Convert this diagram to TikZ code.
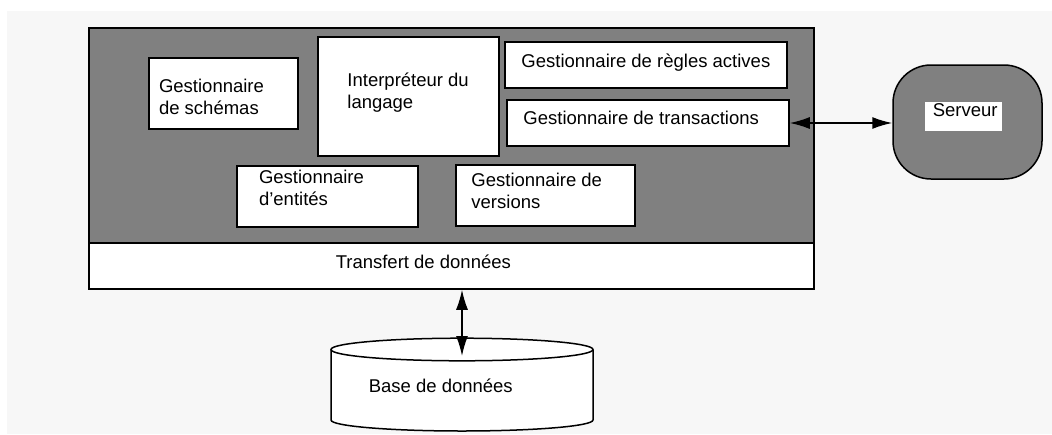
\documentclass[tikz,border=0pt]{standalone}
\usepackage{fontspec}
\setmainfont{Liberation Sans}
\usetikzlibrary{arrows.meta,fit}
\definecolor{fond}{HTML}{F7F7F7}
\definecolor{gris}{HTML}{808080}
\begin{document}
\begin{tikzpicture}[x=1pt,y=-1pt,line width=1.5pt,>={Latex[length=20pt,width=12pt]},
  bloc/.style={draw,fill=white,inner sep=0pt},
  txt/.style={anchor=base west,align=left,inner sep=0pt,font=\fontsize{18.5}{22}\selectfont}]
\path[use as bounding box] (0,0) rectangle (1052,434);
\fill[fond] (7,11) rectangle (1052,434);
% le noyau
\node[bloc,fill=gris,fit={(89,28) (814,243)}] (noyau) {};
\node[bloc,fit={(89,243) (814,289)}] (transfert) {};
\node[bloc,fit={(149,58) (298,129)}] (schemas) {};
\node[bloc,fit={(318,37) (499,156)}] (interp) {};
\node[bloc,fit={(237,166) (418,227)}] (entites) {};
\node[bloc,fit={(505,42) (787,88)}] (regles) {};
\node[bloc,fit={(507,100) (789,146)}] (transac) {};
\node[bloc,fit={(456,165) (635,226)}] (versions) {};
% base = derniere ligne
\node[txt] (t-schemas) at (158.3,114.5) {Gestionnaire\\de schémas};
\node[txt] (t-interp) at (346.7,108.6) {Interpréteur du\\langage};
\node[txt] (t-entites) at (258.3,205.3) {Gestionnaire\\d’entités};
\node[txt] (t-regles) at (520.7,67.6) {Gestionnaire de règles actives};
\node[txt] (t-transac) at (522.7,124.3) {Gestionnaire de transactions};
\node[txt] (t-versions) at (470.7,208.6) {Gestionnaire de\\versions};
\node[txt] (t-transfert) at (335,268.3) {Transfert de données};
% le serveur
\node[bloc,fill=gris,rounded corners=38pt,fit={(893,65) (1042,179)}] (serveur) {};
\node[fill=white,inner sep=0pt,fit={(925,102) (1002,131)}] (etiq) {};
\node[txt] (t-serveur) at (932,116) {Serveur};
% la base
\fill[white] (331,349.5) -- (331,420) arc[start angle=180,end angle=360,x radius=131pt,y radius=11pt] -- (593,349.5) -- cycle;
\draw (331,349.5) -- (331,420) arc[start angle=180,end angle=360,x radius=131pt,y radius=11pt] -- (593,349.5);
\draw[fill=white] (462,349.5) ellipse[x radius=131pt,y radius=11.3pt];
\coordinate (bdhaut) at (462,356);
\node[txt] (t-base) at (368,392.6) {Base de données};
% liaisons
\draw[<->] (transac.east) -- (transac.east -| serveur.west);
\draw[<->] (transfert.south -| bdhaut) -- (bdhaut);
\end{tikzpicture}
\end{document}
